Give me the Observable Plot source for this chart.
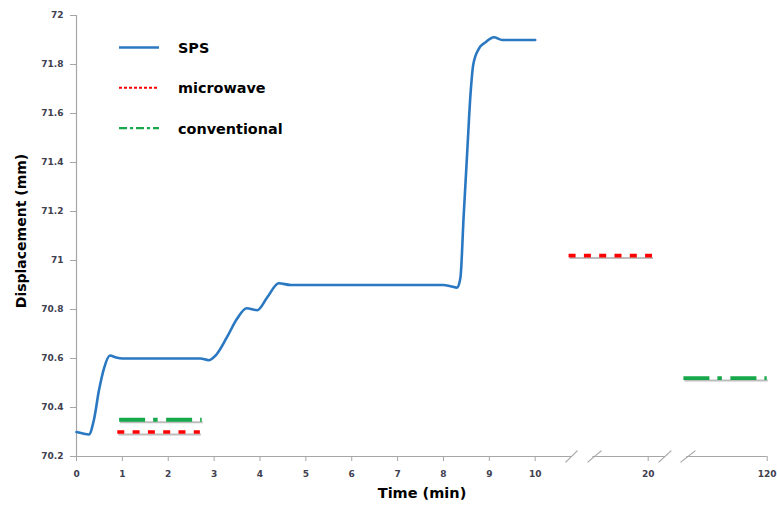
<!DOCTYPE html>
<html>
<head>
<meta charset="utf-8">
<script src="https://cdn.jsdelivr.net/npm/d3@7"></script>
<script src="https://cdn.jsdelivr.net/npm/@observablehq/plot@0.6"></script>
<style>
  html, body { margin: 0; padding: 0; background: #fff; }
  #chart { position: relative; width: 777px; height: 508px; }
</style>
</head>
<body>
<div id="chart"></div>
<script>
// ---- data ----
const spsTime = [0, 0.12, 0.27, 0.38, 0.49, 0.6, 0.73, 0.85, 1.0, 2.0, 2.7, 2.88, 3.03, 3.28, 3.5, 3.71, 3.94, 4.16, 4.41, 4.67, 6, 8.0, 8.15, 8.3, 8.37, 8.44, 8.52, 8.59, 8.65, 8.77, 8.92, 9.1, 9.28, 10.0];
const spsDisp = [70.30, 70.295, 70.29, 70.35, 70.47, 70.56, 70.612, 70.605, 70.60, 70.60, 70.60, 70.593, 70.612, 70.687, 70.762, 70.805, 70.797, 70.85, 70.907, 70.90, 70.90, 70.90, 70.895, 70.889, 70.93, 71.18, 71.45, 71.68, 71.80, 71.864, 71.891, 71.911, 71.90, 71.90];

const microwaveStart = [0.9, 13.0];
const microwaveEnd = [2.7, 23.6];
const microwaveDisp = [70.30, 71.02];

const conventionalStart = [0.94, 50];
const conventionalEnd = [2.74, 120];
const conventionalDisp = [70.35, 70.52];

const xTicks = [0, 1, 2, 3, 4, 5, 6, 7, 8, 9, 10, 20, 120];
const xTickLabels = ["0", "1", "2", "3", "4", "5", "6", "7", "8", "9", "10", "20", "120"];
const yTicks = [70.2, 70.4, 70.6, 70.8, 71.0, 71.2, 71.4, 71.6, 71.8, 72.0];
const yTickLabels = ["70.2", "70.4", "70.6", "70.8", "71", "71.2", "71.4", "71.6", "71.8", "72"];

// broken axis: visible baseline pieces and break slashes (in time units)
const axisPieceStart = [0, 15.1, 52.3];
const axisPieceEnd = [13.3, 34.5, 120];
const breakStart = [12.68, 14.63, 28.7, 47.1];
const breakEnd = [13.74, 15.87, 39.4, 59.7];

const seriesNames = ["SPS", "microwave", "conventional"];
const seriesColors = ["#2b78c2", "#ff0000", "#16a84a"];

// ---- build tables ----
const sps = spsTime.map((t, i) => ({t, v: spsDisp[i]}));
const microwave = microwaveStart.map((s, i) => ({s, e: microwaveEnd[i], v: microwaveDisp[i]}));
const conventional = conventionalStart.map((s, i) => ({s, e: conventionalEnd[i], v: conventionalDisp[i]}));
const pieces = axisPieceStart.map((s, i) => ({s, e: axisPieceEnd[i]}));
const breaks = breakStart.map((s, i) => ({s, e: breakEnd[i]}));

const axisGray = "#a6a6a6";
const tickText = "#404050";
const font = "DejaVu Sans, Verdana, sans-serif";

const plot = Plot.plot({
  width: 777,
  height: 508,
  marginLeft: 76,
  marginRight: 10,
  marginTop: 15,
  marginBottom: 52,
  style: {fontFamily: font, background: "#fff", overflow: "visible"},
  x: {type: "linear", domain: [0, 10, 20, 120], range: [76, 534.7, 647.7, 766.7]},
  y: {domain: [70.2, 72]},
  marks: [
    // axes lines
    Plot.ruleX([0], {stroke: axisGray, strokeWidth: 1.2}),
    Plot.ruleY(pieces, {y: 70.2, x1: "s", x2: "e", stroke: axisGray, strokeWidth: 1.2}),
    Plot.link(breaks, {x1: "s", x2: "e", y1: 70.176, y2: 70.224, stroke: axisGray, strokeWidth: 1.2}),
    Plot.axisX({
      ticks: xTicks, tickSize: 5, tickPadding: 9, stroke: axisGray, fill: tickText,
      tickFormat: (d) => xTickLabels[xTicks.indexOf(d)], fontSize: 9, fontWeight: "bold", label: null
    }),
    Plot.axisY({
      ticks: yTicks, tickSize: 6, tickPadding: 7, stroke: axisGray, fill: tickText,
      tickFormat: (d) => yTickLabels[yTicks.indexOf(d)], fontSize: 9, fontWeight: "bold", label: null
    }),
    // shadows of the reference lines
    Plot.ruleY(microwave, {y: "v", x1: "s", x2: "e", stroke: "#bdbdbd", strokeWidth: 2, dy: 2.5, dx: 1}),
    Plot.ruleY(conventional, {y: "v", x1: "s", x2: "e", stroke: "#bdbdbd", strokeWidth: 2, dy: 2.5, dx: 1}),
    Plot.ruleY(microwave, {y: "v", x1: "s", x2: "e", stroke: seriesColors[1], strokeWidth: 3.6, strokeDasharray: "7,8.3"}),
    Plot.ruleY(conventional, {y: "v", x1: "s", x2: "e", stroke: seriesColors[2], strokeWidth: 3.8, strokeDasharray: "26,8,4.5,8.5"}),
    Plot.line(sps, {x: "t", y: "v", stroke: seriesColors[0], strokeWidth: 2.6, curve: "monotone-x"}),
    // axis titles
    Plot.text(["Time (min)"], {frameAnchor: "bottom", dy: 41, fontSize: 14.5, fontWeight: "bold", fill: "#000", textAnchor: "middle"}),
    Plot.text(["Displacement (mm)"], {frameAnchor: "left", dx: -55, dy: -5, rotate: -90, textAnchor: "middle", fontSize: 14, fontWeight: "bold", fill: "#000"})
  ]
});
document.getElementById("chart").appendChild(plot);

// ---- legend (inside plot area, top-left) ----
const svg = d3.select(plot);
const lg = svg.append("g").attr("class", "legend").attr("text-anchor", "start");
const legendDash = [null, "3,2", "8,3,3,3"];
const legendWidth = [2.6, 2, 2.4];
seriesNames.forEach((name, i) => {
  const y = 47.5 + i * 40.3;
  lg.append("line").attr("x1", 119).attr("x2", 159).attr("y1", y).attr("y2", y)
    .attr("stroke", seriesColors[i]).attr("stroke-width", legendWidth[i])
    .attr("stroke-dasharray", legendDash[i]);
  lg.append("text").attr("x", 178).attr("y", y + 5.5).text(name)
    .attr("text-anchor", "start")
    .attr("font-family", font).attr("font-size", 14.4).attr("font-weight", "bold").attr("fill", "#000");
});
</script>
</body>
</html>
